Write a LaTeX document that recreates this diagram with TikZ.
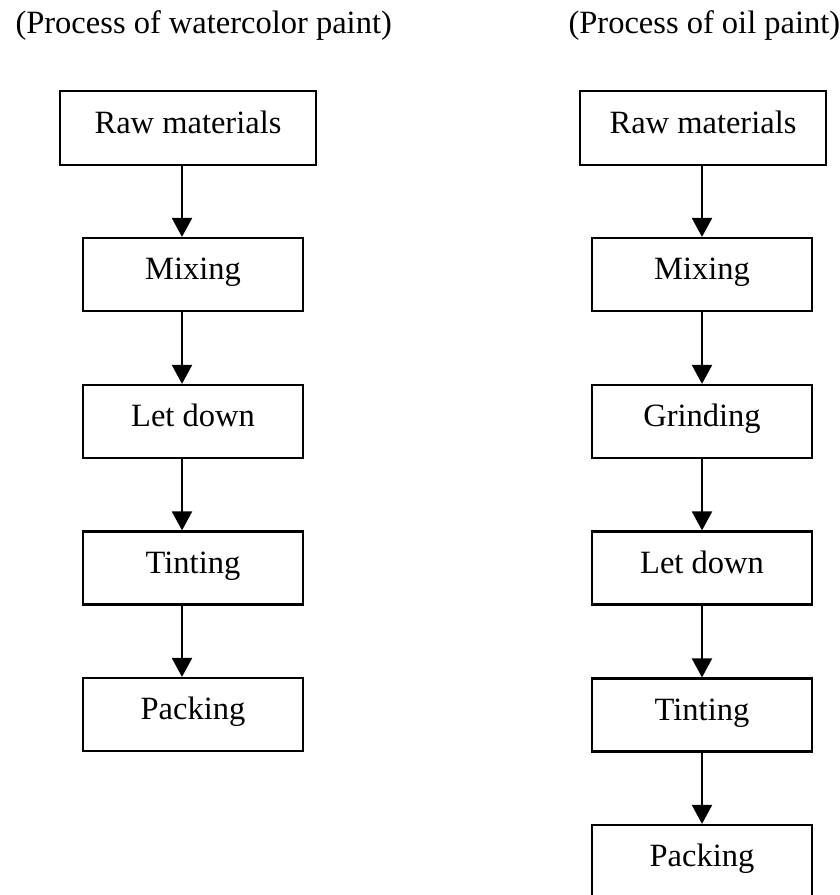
\documentclass[tikz,border=0pt]{standalone}
\usepackage{fontspec}
\setmainfont{Liberation Serif}
\usetikzlibrary{arrows.meta}
\begin{document}
\begin{tikzpicture}[x=1pt,y=-1pt,
  stage/.style={draw,line width=2.2pt,inner sep=0pt,minimum width=220pt,minimum height=73pt,
    text height=22pt,text depth=12pt,font=\fontsize{32.5}{38}\selectfont},
  flow/.style={draw,line width=2.2pt,-{Triangle[width=20pt,length=19pt]}}]
\clip (0,0) rectangle (840,895);
\node[anchor=base west,font=\fontsize{32.5}{38}\selectfont] (tw) at (12,33) {(Process of watercolor paint)};
\node[anchor=base west,font=\fontsize{32.5}{38}\selectfont] (to) at (565,33) {(Process of oil paint)};

% watercolor
\node[stage,minimum width=256pt,minimum height=74pt] (w1) at (188,128) {Raw materials};
\node[stage] (w2) at (193,274.5) {Mixing};
\node[stage] (w3) at (193,421.5) {Let down};
\node[stage] (w4) at (193,568) {Tinting};
\node[stage] (w5) at (193,714.5) {Packing};

\path[flow] ([xshift=-6pt]w1.south) -- ([xshift=-11pt]w2.north);
\path[flow] ([xshift=-11pt]w2.south) -- ([xshift=-11pt]w3.north);
\path[flow] ([xshift=-11pt]w3.south) -- ([xshift=-11pt]w4.north);
\path[flow] ([xshift=-11pt]w4.south) -- ([xshift=-11pt]w5.north);

% oil
\node[stage,minimum width=246pt,minimum height=74pt] (o1) at (703,128) {Raw materials};
\node[stage] (o2) at (702,274.5) {Mixing};
\node[stage] (o3) at (702,421.5) {Grinding};
\node[stage] (o4) at (702,568) {Let down};
\node[stage] (o5) at (702,715) {Tinting};
\node[stage] (o6) at (702,861.5) {Packing};

\path[flow] ([xshift=-1pt]o1.south) -- (o2.north);
\path[flow] (o2) -- (o3);
\path[flow] (o3) -- (o4);
\path[flow] (o4) -- (o5);
\path[flow] (o5) -- (o6);
\end{tikzpicture}
\end{document}
